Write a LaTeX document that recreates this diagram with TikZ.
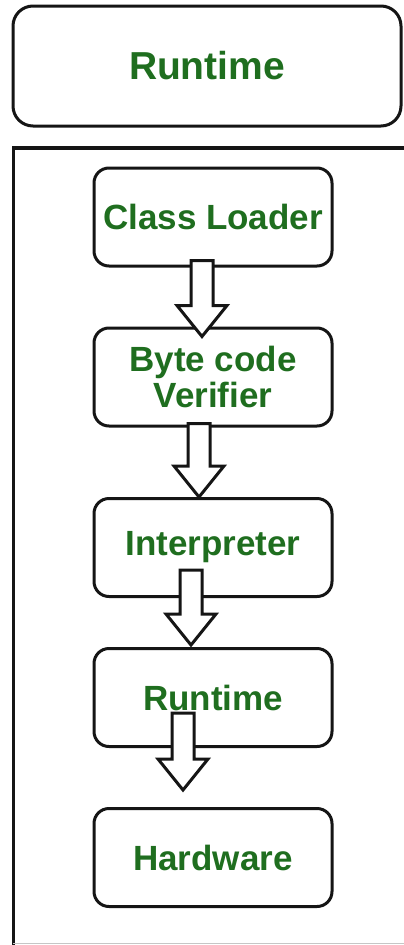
\documentclass[tikz,border=0pt]{standalone}
\usepackage{fontspec}
\setmainfont{Liberation Sans}
\usetikzlibrary{calc}
\definecolor{tgreen}{HTML}{1F6E1F}
\definecolor{lineblack}{HTML}{151515}
\tikzset{
  boxline/.style={draw=lineblack, line width=3pt},
  stagebox/.style={boxline, rounded corners=15pt, minimum width=238pt, minimum height=98pt,
    inner sep=0pt, align=center, text=tgreen, font=\fontsize{35}{36}\selectfont\bfseries},
  topbox/.style={boxline, rounded corners=20pt, minimum width=388pt, minimum height=120pt,
    inner sep=0pt, text=tgreen, font=\fontsize{39}{40}\selectfont\bfseries},
  arrowshape/.style={boxline, fill=white, line join=miter},
}
\newcommand\blockarrow[2]{%
  \draw[arrowshape] ($(#1)+(-11,0)$) -- ($(#1)+(11,0)$) -- ($(#2)+(11,-31)$)
    -- ($(#2)+(25,-31)$) -- (#2) -- ($(#2)+(-25,-31)$) -- ($(#2)+(-11,-31)$) -- cycle;}
\begin{document}
\begin{tikzpicture}[x=1pt, y=-1pt]
  \useasboundingbox (0,0) rectangle (404,945);
  \clip (0,0) rectangle (404,945);
  \fill[white] (0,0) rectangle (404,945);
  % top box
  \node[topbox] (top) at (207,66) {Runtime};
  % frame
  \coordinate (frtl) at (13.5,148);
  \draw[boxline, line width=3.4pt, line cap=rect] (430,148) -- (frtl) -- (13.5,960);
  \draw[gray!45, line width=1.5pt] (13,943.5) -- (404,943.5);
  % stages
  \node[stagebox] (cl) at (213,217) {Class Loader};
  \node[stagebox] (bv) at (213,377) {Byte code\\Verifier};
  \node[stagebox] (in) at (213,547.5) {Interpreter};
  \node[stagebox] (rt) at (213,697.5) {Runtime};
  \node[stagebox] (hw) at (213,857.5) {Hardware};
  % arrow anchors
  \coordinate (a1s) at ($(cl.south)+(-11,-7)$);
  \coordinate (a1t) at ($(bv.north)+(-11,10)$);
  \coordinate (a2s) at ($(bv.south)+(-14,-4)$);
  \coordinate (a2t) at ($(in.north)+(-14,0)$);
  \coordinate (a3s) at ($(in.south)+(-22,-28)$);
  \coordinate (a3t) at ($(rt.north)+(-22,-2)$);
  \coordinate (a4s) at ($(rt.south)+(-30,-35)$);
  \coordinate (a4t) at ($(hw.north)+(-30,-17)$);
  \blockarrow{a1s}{a1t}
  \blockarrow{a2s}{a2t}
  \blockarrow{a3s}{a3t}
  \blockarrow{a4s}{a4t}
\end{tikzpicture}
\end{document}
